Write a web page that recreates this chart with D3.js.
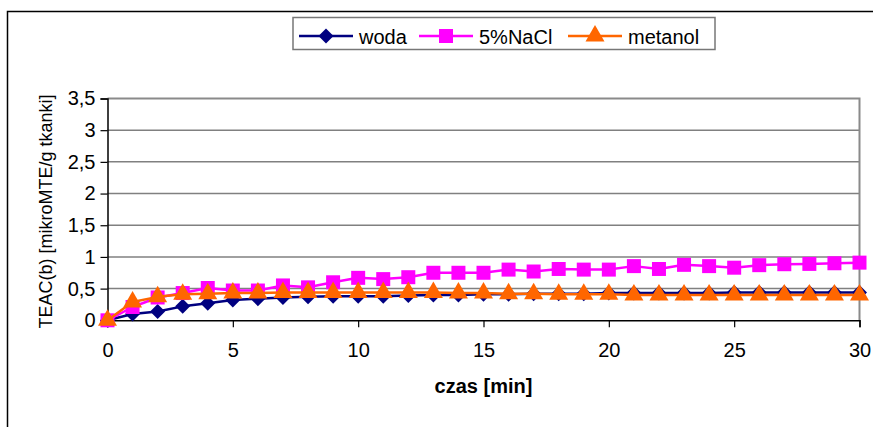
<!DOCTYPE html>
<html>
<head>
<meta charset="utf-8">
<script src="https://cdn.jsdelivr.net/npm/d3@7"></script>
<style>
  html, body { margin: 0; padding: 0; background: #fff; }
  svg { display: block; }
  text { font-family: "Liberation Sans", Arial, sans-serif; fill: #000; }
</style>
</head>
<body>
<svg id="chart" width="873" height="427"></svg>
<script>
// Czas ekstrakcji [min]
const czas = d3.range(0, 31);

// TEAC(b) [mikroMTE/g tkanki] dla poszczególnych ekstrahentów
const woda = [0, 0.10, 0.14, 0.22, 0.27, 0.32, 0.34, 0.36, 0.37, 0.38, 0.38,
  0.38, 0.39, 0.40, 0.40, 0.41, 0.41, 0.42, 0.42, 0.42, 0.43,
  0.43, 0.43, 0.43, 0.43, 0.44, 0.44, 0.44, 0.44, 0.44, 0.44];
const nacl = [0, 0.21, 0.36, 0.43, 0.51, 0.47, 0.47, 0.55, 0.52, 0.60, 0.67,
  0.65, 0.68, 0.75, 0.75, 0.75, 0.80, 0.77, 0.81, 0.80, 0.80,
  0.855, 0.81, 0.875, 0.855, 0.83, 0.87, 0.885, 0.89, 0.90, 0.91];
const metanol = [0, 0.29, 0.37, 0.41, 0.42, 0.43, 0.43, 0.44, 0.44, 0.44, 0.44,
  0.44, 0.44, 0.44, 0.43, 0.43, 0.42, 0.42, 0.41, 0.41, 0.41,
  0.40, 0.40, 0.40, 0.40, 0.40, 0.40, 0.40, 0.40, 0.40, 0.40];

const seriesNames = ["woda", "5%NaCl", "metanol"];
const yTicks = [0, 0.5, 1, 1.5, 2, 2.5, 3, 3.5];
const xTicks = [0, 5, 10, 15, 20, 25, 30];

const svg = d3.select("#chart");

// outer frame of the chart object
svg.append("rect")
  .attr("x", 7.5).attr("y", 11.5)
  .attr("width", 900).attr("height", 450)
  .attr("fill", "#fff").attr("stroke", "#000").attr("stroke-width", 1.5);

const x = d3.scaleLinear().domain([0, 30]).range([107.5, 859.5]);
const y = d3.scaleLinear().domain([0, 3.5]).range([320.3, 98.5]);

// plot area
svg.append("rect")
  .attr("x", x(0)).attr("y", y(3.5))
  .attr("width", x(30) - x(0)).attr("height", y(0) - y(3.5))
  .attr("fill", "#fff");

// horizontal gridlines
svg.append("g").selectAll("line")
  .data(yTicks.filter(d => d > 0 && d < 3.5))
  .join("line")
  .attr("x1", x(0)).attr("x2", x(30))
  .attr("y1", d => y(d)).attr("y2", d => y(d))
  .attr("stroke", "#808080").attr("stroke-width", 1.5);

// top and right border of plot area
svg.append("path")
  .attr("d", `M${x(0)},${y(3.5)}H${x(30)}V${y(0)}`)
  .attr("fill", "none").attr("stroke", "#8a8a8a").attr("stroke-width", 2);

// axes
const yAxis = d3.axisLeft(y).tickValues(yTicks).tickSize(7).tickPadding(5)
  .tickFormat(d => String(d).replace(".", ","));
const xAxis = d3.axisBottom(x).tickValues(xTicks).tickSize(7).tickPadding(16)
  .tickFormat(d => d);

const gy = svg.append("g").attr("transform", `translate(${x(0)},0)`).call(yAxis);
const gx = svg.append("g").attr("transform", `translate(0,${y(0)})`).call(xAxis);
[gy, gx].forEach(g => {
  g.select(".domain").attr("stroke", "#000").attr("stroke-width", 1.5);
  g.selectAll(".tick line").attr("stroke", "#000").attr("stroke-width", 1.2);
  g.selectAll("text").attr("font-size", 20)
    .attr("font-family", "'Liberation Sans', Arial, sans-serif").attr("fill", "#000");
});

// axis titles
svg.append("text")
  .attr("x", (x(0) + x(30)) / 2).attr("y", 393)
  .attr("text-anchor", "middle").attr("font-size", 20).attr("font-weight", "bold")
  .text("czas [min]");
svg.append("text")
  .attr("transform", `translate(52,${(y(0) + y(3.5)) / 2 + 2}) rotate(-90)`)
  .attr("text-anchor", "middle").attr("font-size", 18)
  .text("TEAC(b) [mikroMTE/g tkanki]");

// marker shapes
const markers = {
  diamond: "M0,-7.5L7.5,0L0,7.5L-7.5,0Z",
  square: "M-7,-7H7V7H-7Z",
  triangle: "M0,-11L9.5,5.5L-9.5,5.5Z"
};

const series = [
  { name: seriesNames[0], values: woda, color: "#000080", marker: markers.diamond },
  { name: seriesNames[1], values: nacl, color: "#FF00FF", marker: markers.square },
  { name: seriesNames[2], values: metanol, color: "#FF6600", marker: markers.triangle }
];

const line = d3.line().x((d, i) => x(czas[i])).y(d => y(d));

series.forEach(s => {
  const g = svg.append("g");
  g.append("path")
    .attr("d", line(s.values))
    .attr("fill", "none").attr("stroke", s.color).attr("stroke-width", 2.5)
    .attr("stroke-linejoin", "round");
  g.selectAll("path.m")
    .data(s.values)
    .join("path")
    .attr("class", "m")
    .attr("d", s.marker)
    .attr("transform", (d, i) => `translate(${x(czas[i])},${y(d)})`)
    .attr("fill", s.color);
});

// legend
const legend = svg.append("g");
legend.append("rect")
  .attr("x", 293).attr("y", 17.5).attr("width", 422).attr("height", 32)
  .attr("fill", "#fff").attr("stroke", "#777").attr("stroke-width", 1.5);
const legendX = [299, 419, 568];
series.forEach((s, i) => {
  const g = legend.append("g").attr("transform", `translate(${legendX[i]},36)`);
  g.append("line").attr("x1", 0).attr("x2", 54)
    .attr("stroke", s.color).attr("stroke-width", 2.5);
  g.append("path").attr("d", s.marker).attr("transform", "translate(27,0)")
    .attr("fill", s.color);
  g.append("text").attr("x", 60).attr("y", 7.5)
    .attr("font-size", 20).text(s.name);
});
</script>
</body>
</html>
